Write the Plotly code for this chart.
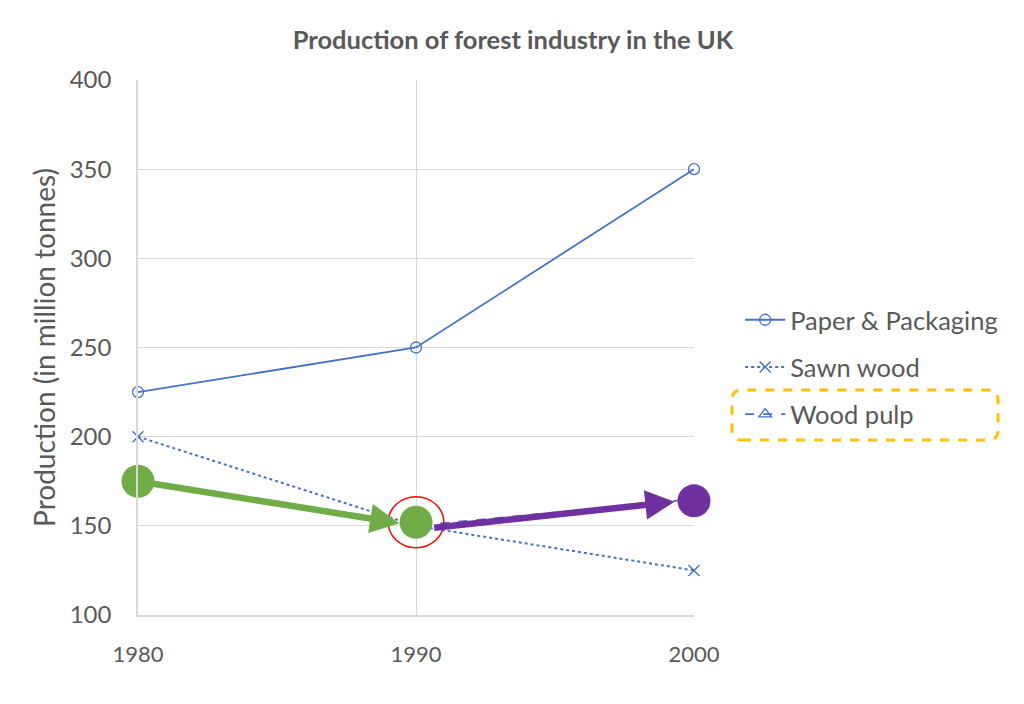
import plotly.graph_objects as go

years = [1980, 1990, 2000]
paper_packaging = [225, 250, 350]
sawn_wood = [200, 150, 125]
wood_pulp = [175, 150, 165]

green_years = [1980, 1990]
green_vals = [175, 152]
purple_year = [2000]
purple_val = [164]

BLUE = "#4472C4"
GREEN = "#70AD47"
PURPLE = "#7030A0"
TXT = "#595959"
FONT = "Lato, 'Open Sans', sans-serif"

fig = go.Figure()
fig.add_trace(go.Scatter(x=years, y=paper_packaging, name="Paper & Packaging",
                         mode="lines+markers", legendgroup="a", cliponaxis=False,
                         line=dict(color=BLUE, width=1.8),
                         marker=dict(symbol="circle-open", size=11, color=BLUE, line=dict(width=1.3))))
fig.add_trace(go.Scatter(x=years, y=sawn_wood, name="Sawn wood",
                         mode="lines+markers", legendgroup="b", cliponaxis=False,
                         line=dict(color=BLUE, width=2, dash="dot"),
                         marker=dict(symbol="x-thin-open", size=11, color=BLUE, line=dict(width=1.4, color=BLUE))))
fig.add_trace(go.Scatter(x=years, y=wood_pulp, name="Wood pulp",
                         mode="lines+markers", legendgroup="c", cliponaxis=False,
                         line=dict(color=BLUE, width=1.8, dash="dash"),
                         marker=dict(symbol="triangle-up-open", size=11, color=BLUE, line=dict(width=1.3))))

# highlight markers
fig.add_trace(go.Scatter(x=green_years, y=green_vals, mode="markers", showlegend=False,
                         marker=dict(size=33, color=GREEN), hoverinfo="skip", cliponaxis=False))
fig.add_trace(go.Scatter(x=purple_year, y=purple_val, mode="markers", showlegend=False,
                         marker=dict(size=33, color=PURPLE), hoverinfo="skip", cliponaxis=False))

# arrows
fig.add_annotation(x=1989.4, y=151.5, ax=green_years[0], ay=green_vals[0], axref="x", ayref="y",
                   xref="x", yref="y", text="", showarrow=True, arrowhead=2, arrowsize=0.9,
                   arrowwidth=6.5, arrowcolor=GREEN)
fig.add_annotation(x=1999.3, y=163.5, ax=1990.6, ay=148.8, axref="x", ayref="y",
                   xref="x", yref="y", text="", showarrow=True, arrowhead=2, arrowsize=0.9,
                   arrowwidth=6.5, arrowcolor=PURPLE)

# red circle around 1990 point
fig.add_shape(type="circle", xref="x", yref="y", x0=1989.0, x1=1991.0, y0=137.7, y1=166.3,
              line=dict(color="#FF0000", width=1.5))

# orange dashed rounded box around legend item (paper coords)
x0, x1 = (732 - 138) / 556, (998 - 138) / 556
y0, y1 = (615 - 440) / 535, (615 - 390) / 535
rx, ry = 10 / 556, 10 / 535
path = (f"M {x0+rx},{y0} L {x1-rx},{y0} Q {x1},{y0} {x1},{y0+ry} L {x1},{y1-ry} "
        f"Q {x1},{y1} {x1-rx},{y1} L {x0+rx},{y1} Q {x0},{y1} {x0},{y1-ry} "
        f"L {x0},{y0+ry} Q {x0},{y0} {x0+rx},{y0} Z")
fig.add_shape(type="path", xref="paper", yref="paper", path=path,
              line=dict(color="#FFC000", width=3, dash="dash"))

fig.update_layout(
    width=1016, height=696,
    margin=dict(l=130, r=330, t=72, b=89, autoexpand=False),
    paper_bgcolor="white", plot_bgcolor="white",
    font=dict(family=FONT, color=TXT, size=20),
    title=dict(text="<b>Production of forest industry in the UK</b>", x=0.497, xanchor="center",
               xref="container", yref="container", y=0.954, yanchor="middle",
               font=dict(size=25.5, color=TXT, family=FONT)),
    legend=dict(x=1.083, y=0.595, xanchor="left", yanchor="top", font=dict(size=25.5, color=TXT),
                tracegroupgap=11, bgcolor="rgba(0,0,0,0)", itemwidth=40),
    showlegend=True,
)
fig.update_xaxes(range=[1980, 2000], tickvals=years, ticktext=[str(y) for y in years],
                 showgrid=True, gridcolor="#D9D9D9", gridwidth=1.3, zeroline=False,
                 showline=True, linecolor="#D9D9D9", linewidth=1.5, automargin=False,
                 ticks="", ticklabelstandoff=19, tickfont=dict(size=22, color=TXT))
fig.update_yaxes(range=[100, 400], dtick=50, tick0=100,
                 showgrid=True, gridcolor="#D9D9D9", gridwidth=1.3, zeroline=False,
                 showline=True, linecolor="#D9D9D9", linewidth=1.5, automargin=False,
                 ticks="", ticklabelstandoff=20, tickfont=dict(size=24, color=TXT),
                 title=dict(text="Production (in million tonnes)", standoff=6, font=dict(size=28, color=TXT)))

fig.write_html("out.html")
